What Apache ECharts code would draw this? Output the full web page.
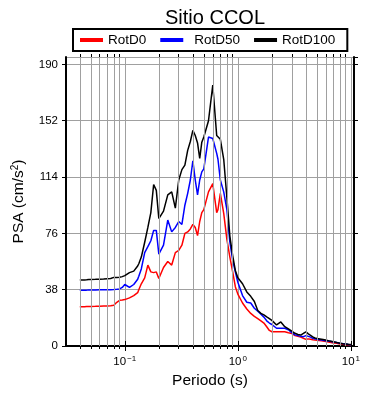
<!DOCTYPE html>
<html>
<head>
<meta charset="utf-8">
<script src="https://cdn.jsdelivr.net/npm/echarts@6/dist/echarts.min.js"></script>
<style>
html, body { margin: 0; padding: 0; background: #fff; }
#chart { width: 390px; height: 400px; }
</style>
</head>
<body>
<div id="chart"></div>
<script>
// periods (s)
var periods = [
  0.04, 0.042, 0.044, 0.046, 0.048, 0.05, 0.055, 0.06, 0.065, 0.067,
  0.07, 0.075, 0.08, 0.085, 0.09, 0.095, 0.1, 0.11, 0.12, 0.13,
  0.133, 0.14, 0.15, 0.16, 0.17, 0.18, 0.19, 0.2, 0.22, 0.24,
  0.26, 0.28, 0.3, 0.32, 0.34, 0.36, 0.38, 0.4, 0.42, 0.44,
  0.46, 0.48, 0.5, 0.55, 0.6, 0.65, 0.667, 0.7, 0.75, 0.8,
  0.85, 0.9, 0.95, 1.0, 1.1, 1.2, 1.3, 1.4, 1.5, 1.6,
  1.7, 1.8, 1.9, 2.0, 2.2, 2.4, 2.6, 2.8, 3.0, 3.2,
  3.4, 3.6, 3.8, 4.0, 4.2, 4.4, 4.6, 4.8, 5.0, 5.5,
  6.0, 6.5, 7.0, 7.5, 8.0, 8.5, 9.0, 9.5, 10.0
]
var rotD0 = [
  26.5, 26.5, 26.5, 26.6, 26.6, 26.7, 26.8, 26.9, 27.0, 27.0,
  27.0, 27.2, 27.5, 29.5, 30.8, 31.0, 31.3, 32.5, 34.0, 36.0,
  38.0, 42.0, 46.0, 54.6, 50.0, 49.5, 50.0, 45.5, 53.0, 57.0,
  54.6, 63.0, 64.5, 68.0, 76.0, 77.0, 79.0, 82.0, 80.0, 74.5,
  84.0, 90.0, 92.0, 104.0, 109.6, 90.0, 92.0, 103.0, 89.5, 72.0,
  60.0, 50.0, 40.0, 35.0, 29.0, 25.0, 22.0, 20.0, 18.5, 17.0,
  15.5, 13.0, 10.5, 9.6, 9.6, 9.6, 9.6, 9.0, 8.5, 7.0,
  6.5, 6.0, 5.2, 4.5, 4.8, 4.5, 4.2, 4.0, 3.8, 3.5,
  3.0, 2.5, 2.0, 1.8, 1.4, 1.1, 0.9, 0.8, 0.7
]
var rotD50 = [
  37.7, 37.7, 37.7, 37.7, 37.8, 37.8, 37.8, 37.9, 37.9, 38.0,
  38.0, 38.0, 38.1, 38.3, 38.5, 39.5, 41.5, 39.5, 41.5, 45.0,
  47.0, 52.0, 63.0, 67.0, 71.0, 78.0, 78.0, 62.0, 68.0, 85.0,
  77.0, 80.0, 84.0, 82.0, 95.0, 103.0, 112.0, 125.0, 112.0, 102.0,
  112.0, 117.5, 119.5, 141.0, 140.0, 130.0, 126.0, 112.0, 104.0, 92.0,
  70.0, 58.0, 50.0, 43.0, 34.0, 29.5, 29.0, 25.5, 23.5, 21.5,
  19.5, 17.0, 15.5, 14.5, 12.0, 12.0, 12.0, 11.0, 9.0, 7.5,
  7.0, 6.5, 6.3, 7.0, 6.5, 6.0, 5.2, 4.8, 4.5, 4.0,
  3.6, 3.2, 2.7, 2.3, 1.9, 1.6, 1.3, 1.0, 0.9
]
var rotD100 = [
  44.5, 44.6, 44.6, 44.7, 44.8, 44.9, 45.0, 45.1, 45.2, 45.3,
  45.4, 45.5, 46.3, 46.2, 46.4, 46.8, 47.5, 49.5, 50.5, 54.0,
  55.5, 60.0, 70.0, 80.0, 90.0, 109.0, 105.0, 86.0, 91.0, 102.0,
  104.0, 93.0, 112.0, 119.0, 122.0, 132.0, 138.0, 145.5, 142.0, 137.0,
  126.5, 137.5, 141.0, 152.0, 176.0, 142.0, 141.0, 139.5, 126.0, 100.0,
  74.0, 61.0, 51.0, 46.0, 42.0, 36.5, 33.5, 30.0, 24.0, 22.0,
  21.0, 19.7, 18.5, 17.3, 14.2, 16.2, 13.0, 11.5, 10.0, 8.6,
  7.8, 7.4, 8.5, 9.6, 8.2, 7.2, 6.2, 5.4, 5.0, 4.6,
  4.0, 3.3, 2.8, 2.3, 1.9, 1.5, 1.3, 1.1, 1.0
]
// minor log ticks / grid lines (2..9 of each decade)
var minorX = [
  0.04, 0.05, 0.06, 0.07, 0.08, 0.09,
  0.2, 0.3, 0.4, 0.5, 0.6, 0.7, 0.8, 0.9,
  2, 3, 4, 5, 6, 7, 8, 9
]

var font = 'Liberation Sans, Arial, Helvetica, sans-serif'
var gridCol = '#a0a0a0'
var gTop = 57, gH = 289
var xMin = 0.0302, xMax = 10.65
var yMax = 195, yStep = 38

var myChart = echarts.init(document.getElementById('chart'))

function pair(v, y0, y1) {
  return [{ coord: [v, 0], y: y0 }, { coord: [v, 0], y: y1 }]
}
function line(name, data, color) {
  return {
    name: name,
    type: 'line',
    data: periods.map(function (p, i) { return [p, data[i]] }),
    symbol: 'none',
    lineStyle: { color: color, width: 1.5 },
    itemStyle: { color: color },
    z: 3
  }
}
var supLabel = function (v) {
  var e = Math.round(Math.log10(v))
  return '{b|10}{s|' + (e < 0 ? '\u2212' + (-e) : e) + '}'
}

var option = {
  animation: false,
  backgroundColor: '#fff',
  textStyle: { fontFamily: font },
  title: {
    text: 'Sitio CCOL',
    left: 210,
    textAlign: 'center',
    top: 3,
    textStyle: { fontFamily: font, fontSize: 20, fontWeight: 'normal', color: '#000' }
  },
  legend: {
    left: 73,
    top: 29,
    padding: [4, 12, 4, 7],
    borderColor: '#000',
    borderWidth: 2,
    itemGap: 14,
    itemWidth: 23,
    itemHeight: 4,
    icon: 'rect',
    textStyle: { fontFamily: font, fontSize: 13.5, color: '#000' },
    data: [
      { name: 'RotD0' },
      { name: 'RotD50', textStyle: { padding: [0, 0, 0, 6] } },
      { name: 'RotD100' }
    ]
  },
  grid: { left: 66, right: 36, top: gTop, height: gH },
  xAxis: [{
    type: 'log',
    min: xMin,
    max: xMax,
    name: 'Periodo (s)',
    nameLocation: 'middle',
    nameGap: 26,
    nameTextStyle: { fontFamily: font, fontSize: 15.5, color: '#000' },
    axisLine: { lineStyle: { color: '#000', width: 2 } },
    axisTick: { length: 5, lineStyle: { color: '#000' } },
    axisLabel: {
      margin: 9,
      showMinLabel: false,
      showMaxLabel: false,
      formatter: supLabel,
      rich: {
        b: { fontFamily: font, fontSize: 11.5, color: '#000', lineHeight: 14 },
        s: { fontFamily: font, fontSize: 8, color: '#000', verticalAlign: 'top', lineHeight: 8, padding: [0, 0, 0, 1] }
      }
    },
    splitLine: { show: true, lineStyle: { color: gridCol, width: 1 } }
  }, {
    type: 'log',
    position: 'top',
    min: xMin,
    max: xMax,
    axisLine: { lineStyle: { color: '#000', width: 2 } },
    axisTick: { length: 5, lineStyle: { color: '#000' } },
    axisLabel: { show: false },
    splitLine: { show: false }
  }],
  yAxis: [{
    type: 'value',
    min: 0,
    max: yMax,
    interval: yStep,
    name: '{a|PSA (cm/s}{s|2}{a|)}',
    nameLocation: 'middle',
    nameGap: 38,
    nameRotate: 90,
    nameTextStyle: {
      rich: {
        a: { fontFamily: font, fontSize: 15.5, color: '#000', lineHeight: 18 },
        s: { fontFamily: font, fontSize: 10, color: '#000', verticalAlign: 'top', lineHeight: 10 }
      }
    },
    axisLine: { show: true, lineStyle: { color: '#000', width: 2 } },
    axisTick: { show: true, length: 4, lineStyle: { color: '#000' } },
    axisLabel: { margin: 8, showMaxLabel: false, fontFamily: font, fontSize: 11.5, color: '#000' },
    splitLine: { show: true, lineStyle: { color: gridCol, width: 1 } }
  }, {
    type: 'value',
    position: 'right',
    min: 0,
    max: yMax,
    interval: yStep,
    axisLine: { show: true, lineStyle: { color: '#000', width: 2 } },
    axisTick: { show: true, length: 4, lineStyle: { color: '#000' } },
    axisLabel: { show: false },
    splitLine: { show: false }
  }],
  series: [
    {
      name: 'grid',
      type: 'line',
      data: [],
      silent: true,
      z: 1,
      markLine: {
        silent: true,
        symbol: 'none',
        animation: false,
        label: { show: false },
        lineStyle: { color: gridCol, width: 1, type: 'solid' },
        data: minorX.map(function (v) { return { xAxis: v } })
      }
    },
    {
      name: 'ticks',
      type: 'line',
      data: [],
      silent: true,
      z: 4,
      markLine: {
        silent: true,
        symbol: 'none',
        animation: false,
        label: { show: false },
        lineStyle: { color: '#000', width: 1, type: 'solid' },
        data: minorX.map(function (v) { return pair(v, gTop + gH, gTop + gH + 3) })
          .concat(minorX.map(function (v) { return pair(v, gTop, gTop - 3) }))
      }
    },
    line('RotD0', rotD0, '#ff0000'),
    line('RotD50', rotD50, '#0000ff'),
    line('RotD100', rotD100, '#000000')
  ]
}
myChart.setOption(option)
</script>
</body>
</html>
